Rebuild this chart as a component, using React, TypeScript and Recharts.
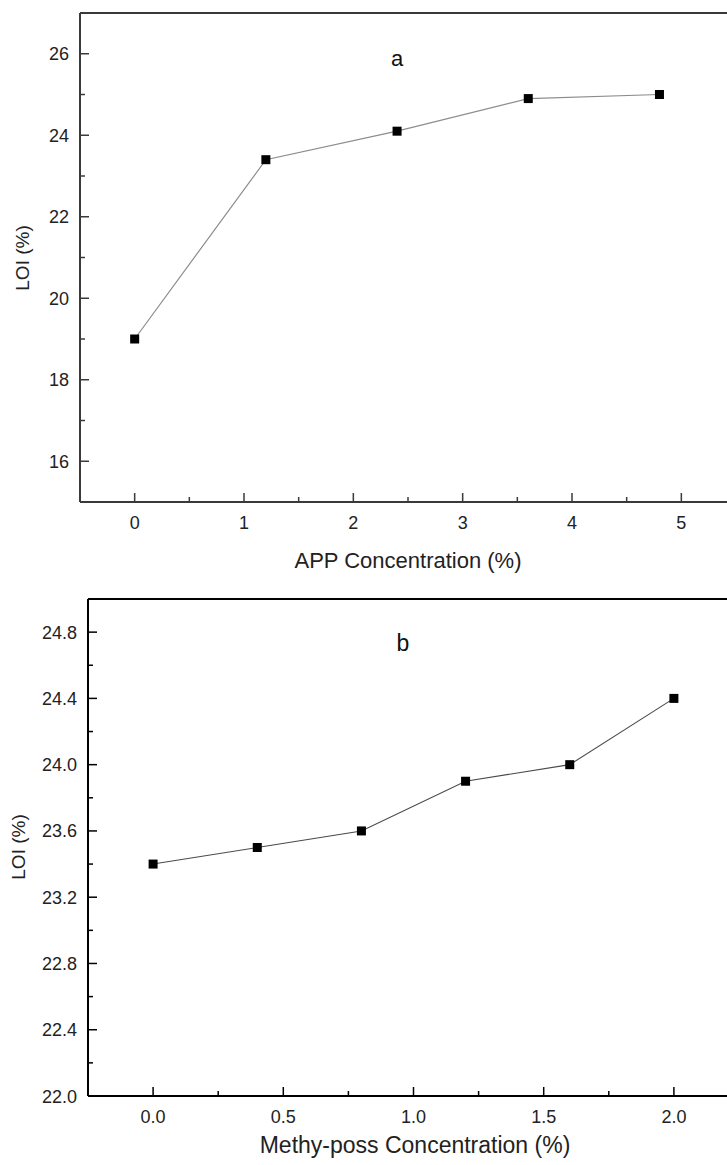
import { LineChart, Line, XAxis, YAxis, ReferenceLine } from 'recharts';

// panel a: APP concentration vs LOI
const appConc = [0, 1.2, 2.4, 3.6, 4.8];
const loiA = [19.0, 23.4, 24.1, 24.9, 25.0];
const xTicksA = [0, 0.5, 1, 1.5, 2, 2.5, 3, 3.5, 4, 4.5, 5];
const xMajorA = [0, 1, 2, 3, 4, 5];
const yTicksA = [16, 17, 18, 19, 20, 21, 22, 23, 24, 25, 26];
const yMajorA = [16, 18, 20, 22, 24, 26];

// panel b: Methy-poss concentration vs LOI
const possConc = [0, 0.4, 0.8, 1.2, 1.6, 2.0];
const loiB = [23.4, 23.5, 23.6, 23.9, 24.0, 24.4];
const xTicksB = [0, 0.25, 0.5, 0.75, 1, 1.25, 1.5, 1.75, 2];
const xMajorB = [0, 0.5, 1, 1.5, 2];
const yTicksB = [22.0, 22.2, 22.4, 22.6, 22.8, 23.0, 23.2, 23.4, 23.6, 23.8, 24.0, 24.2, 24.4, 24.6, 24.8];
const yMajorB = [22.0, 22.4, 22.8, 23.2, 23.6, 24.0, 24.4, 24.8];

const dataA = appConc.map((x, i) => ({ x, loi: loiA[i] }));
const dataB = possConc.map((x, i) => ({ x, loi: loiB[i] }));

const FONT = '"Liberation Sans", Arial, sans-serif';

function XTick({ x, y, payload, majors, fmt, color }: any) {
  const major = majors.includes(payload.value);
  return (
    <g>
      <line x1={x} x2={x} y1={y} y2={y - (major ? 9 : 5)} stroke={color} strokeWidth={1.5} />
      {major && (
        <text x={x} y={y + 27} textAnchor="middle" fontSize={18} fontFamily={FONT} fill="#222">
          {fmt(payload.value)}
        </text>
      )}
    </g>
  );
}

function YTick({ x, y, payload, majors, fmt, color }: any) {
  const major = majors.includes(payload.value);
  return (
    <g>
      <line x1={x} x2={x + (major ? 9 : 5)} y1={y} y2={y} stroke={color} strokeWidth={1.5} />
      {major && (
        <text x={x - 11} y={y + 6.5} textAnchor="end" fontSize={18} fontFamily={FONT} fill="#222">
          {fmt(payload.value)}
        </text>
      )}
    </g>
  );
}

const squareDot = (props: any) => (
  <rect key={`d-${props.index}`} x={props.cx - 4.5} y={props.cy - 4.5} width={9} height={9} fill="#000" />
);

export default function App() {
  const colA = '#3a3a3a';
  const colB = '#000';
  return (
    <div style={{ position: 'absolute', left: 0, top: 0, width: 727, height: 1165, overflow: 'hidden', background: '#fff' }}>
      <div style={{ position: 'absolute', left: 0, top: 0 }}>
        <LineChart width={760} height={580} data={dataA} margin={{ top: 13, right: 24, bottom: 0, left: 0 }}>
          <XAxis
            dataKey="x"
            type="number"
            domain={[-0.5, 5.5]}
            ticks={xTicksA}
            interval={0}
            height={78}
            tickSize={0}
            tickMargin={0}
            tickLine={false}
            axisLine={{ stroke: colA, strokeWidth: 2 }}
            tick={<XTick majors={xMajorA} fmt={(v: number) => String(v)} color={colA} />}
          />
          <YAxis
            type="number"
            domain={[15, 27]}
            ticks={yTicksA}
            interval={0}
            width={80}
            tickSize={0}
            tickMargin={0}
            tickLine={false}
            axisLine={{ stroke: colA, strokeWidth: 2 }}
            tick={<YTick majors={yMajorA} fmt={(v: number) => String(v)} color={colA} />}
          />
          <ReferenceLine y={27} stroke={colA} strokeWidth={2} />
          <ReferenceLine x={5.5} stroke={colA} strokeWidth={2} />
          <Line
            type="linear"
            dataKey="loi"
            stroke="#8c8c8c"
            strokeWidth={1.2}
            dot={squareDot}
            activeDot={false}
            isAnimationActive={false}
          />
          <text x={397} y={66} textAnchor="middle" fontSize={22} fontFamily={FONT} fill="#111">a</text>
          <text x={408} y={568} textAnchor="middle" fontSize={22} fontFamily={FONT} fill="#222">APP Concentration (%)</text>
          <text x={22} y={258} textAnchor="middle" fontSize={19} fontFamily={FONT} fill="#222" dominantBaseline="central" transform="rotate(-90 22 258)">LOI (%)</text>
        </LineChart>
      </div>
      <div style={{ position: 'absolute', left: 0, top: 580 }}>
        <LineChart width={760} height={585} data={dataB} margin={{ top: 19, right: 21, bottom: 0, left: 0 }}>
          <XAxis
            dataKey="x"
            type="number"
            domain={[-0.25, 2.25]}
            ticks={xTicksB}
            interval={0}
            height={69}
            tickSize={0}
            tickMargin={0}
            tickLine={false}
            axisLine={{ stroke: colB, strokeWidth: 2 }}
            tick={<XTick majors={xMajorB} fmt={(v: number) => v.toFixed(1)} color={colB} />}
          />
          <YAxis
            type="number"
            domain={[22, 25]}
            ticks={yTicksB}
            interval={0}
            width={88}
            tickSize={0}
            tickMargin={0}
            tickLine={false}
            axisLine={{ stroke: colB, strokeWidth: 2 }}
            tick={<YTick majors={yMajorB} fmt={(v: number) => v.toFixed(1)} color={colB} />}
          />
          <ReferenceLine y={25} stroke={colB} strokeWidth={2} />
          <ReferenceLine x={2.25} stroke={colB} strokeWidth={2} />
          <Line
            type="linear"
            dataKey="loi"
            stroke="#4a4a4a"
            strokeWidth={1.1}
            dot={squareDot}
            activeDot={false}
            isAnimationActive={false}
          />
          <text x={403} y={71} textAnchor="middle" fontSize={23} fontFamily={FONT} fill="#111">b</text>
          <text x={415} y={573} textAnchor="middle" fontSize={23} fontFamily={FONT} fill="#222">Methy-poss Concentration (%)</text>
          <text x={18} y={267} textAnchor="middle" fontSize={19} fontFamily={FONT} fill="#222" dominantBaseline="central" transform="rotate(-90 18 267)">LOI (%)</text>
        </LineChart>
      </div>
    </div>
  );
}
